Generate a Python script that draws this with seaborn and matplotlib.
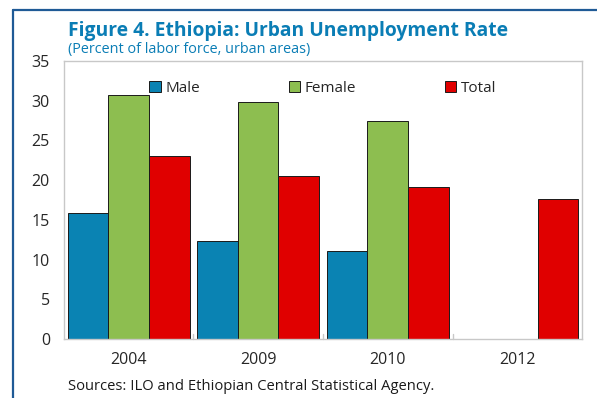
import numpy as np
import pandas as pd
import matplotlib.pyplot as plt
import seaborn as sns
from matplotlib.lines import Line2D

years = ['2004', '2009', '2010', '2012']
male = [15.9, 12.4, 11.1, np.nan]
female = [30.7, 29.8, 27.4, np.nan]
total = [23.0, 20.5, 19.1, 17.6]
series = ['Male', 'Female', 'Total']
colors = ['#0A83B3', '#8DBE50', '#E00000']

sns.set_theme(style='white')
plt.rcParams['font.family'] = ['Open Sans', 'DejaVu Sans']

df = pd.DataFrame({'year': years * 3,
                   'series': ['Male'] * 4 + ['Female'] * 4 + ['Total'] * 4,
                   'value': male + female + total})

fig = plt.figure(figsize=(5.97, 3.98), dpi=100)
ax = fig.add_axes([0.107, 0.148, 0.868, 0.699])

sns.barplot(data=df, x='year', y='value', hue='series', hue_order=series,
            palette=colors, saturation=1, width=0.94, gap=0, ax=ax,
            edgecolor='#1a1a1a', linewidth=0.7, legend=False)

ax.set_ylim(0, 35)
ax.set_yticks(range(0, 36, 5))
ax.set_xlim(-0.5, 3.5)
ax.set_xlabel('')
ax.set_ylabel('')
for s in ax.spines.values():
    s.set_color('#c8c8c8')
    s.set_linewidth(1)
ax.tick_params(axis='y', direction='in', length=4, color='#c8c8c8', labelsize=11.5, pad=10)
ax.tick_params(axis='x', length=0, labelsize=11.5, pad=9)
# group separators on x axis
for xb in [0.5, 1.5, 2.5]:
    ax.plot([xb, xb], [0, 0.6], color='#c8c8c8', lw=1, clip_on=False)

handles = [plt.Rectangle((0, 0), 1, 1, facecolor=c, edgecolor='#1a1a1a', linewidth=0.7) for c in colors]
ax.legend(handles, series, loc='center', bbox_to_anchor=(0.5, 0.9), ncol=3, frameon=False,
          fontsize=11, handlelength=0.75, handleheight=0.75, handletextpad=0.3,
          columnspacing=5.8)

fig.text(0.114, 0.91, 'Figure 4. Ethiopia: Urban Unemployment Rate', fontsize=13.9,
         fontweight='bold', color='#0A7DB5')
fig.text(0.114, 0.866, '(Percent of labor force, urban areas)', fontsize=10.4, color='#0A7DB5')
fig.text(0.114, 0.02, 'Sources: ILO and Ethiopian Central Statistical Agency.', fontsize=10.6,
         color='#1a1a1a')

# frame lines
fig.add_artist(Line2D([0.022, 1.0], [0.975, 0.975], color='#1F5A96', lw=1.6))
fig.add_artist(Line2D([0.022, 0.022], [0.0, 0.975], color='#1F5A96', lw=1.6))

fig.savefig('out.png', dpi=100)
